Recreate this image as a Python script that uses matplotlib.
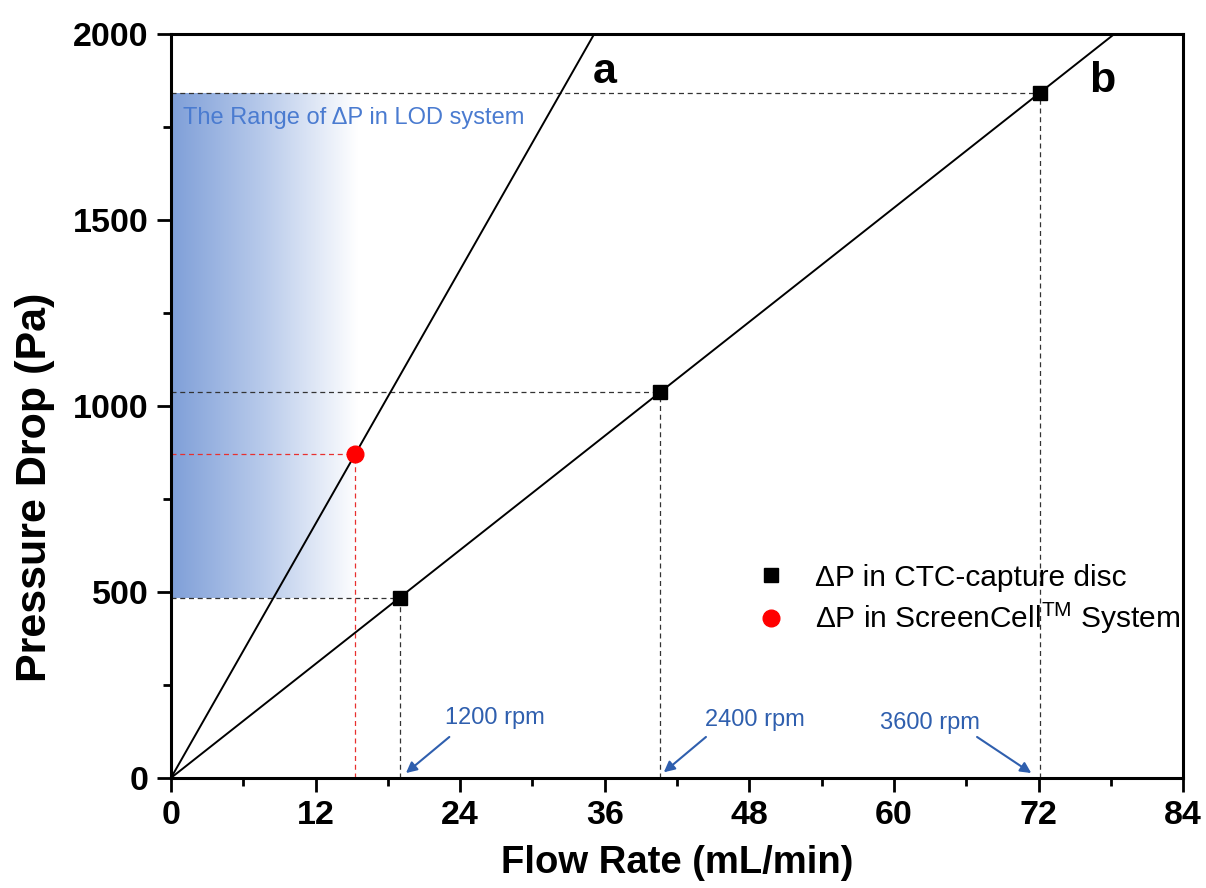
import numpy as np
import matplotlib
matplotlib.use("Agg")
import matplotlib.pyplot as plt
from matplotlib.colors import LinearSegmentedColormap
from matplotlib.ticker import MultipleLocator

plt.rcParams['font.family'] = ['Liberation Sans', 'DejaVu Sans']
plt.rcParams['mathtext.fontset'] = 'custom'
plt.rcParams['mathtext.rm'] = 'Liberation Sans'

# ---- data ----
disc_flow = [19.0, 40.6, 72.1]          # mL/min
disc_dp = [484, 1038, 1841]             # Pa
rpm_labels = ['1200 rpm', '2400 rpm', '3600 rpm']
screencell_flow = [15.3]
screencell_dp = [871]
line_labels = ['a', 'b']
lod_range = [484, 1841]                 # Pa
x_ticks = [0, 12, 24, 36, 48, 60, 72, 84]
y_ticks = [0, 500, 1000, 1500, 2000]

fig = plt.figure(figsize=(12.06, 8.88), dpi=100)
ax = fig.add_axes([0.1418, 0.124, 0.8392, 0.8379])
ax.set_xlim(0, 84)
ax.set_ylim(0, 2000)

# gradient band (range of dP in LOD system)
cmap = LinearSegmentedColormap.from_list('band', ['#7f9fd8', '#b9cbeb', '#ffffff'])
grad = np.linspace(0, 1, 256).reshape(1, -1)
ax.imshow(grad, cmap=cmap, aspect='auto', extent=[0, 15.5, lod_range[0], lod_range[1]],
          origin='lower', zorder=0, interpolation='bicubic')

# lines through origin
fx = np.array(disc_flow); fy = np.array(disc_dp)
slope_b = np.sum(fx * fy) / np.sum(fx * fx)
slope_a = screencell_dp[0] / screencell_flow[0]
xs = np.array([0, 84])
ax.plot(xs, slope_a * xs, color='black', lw=1.4, zorder=3)
ax.plot(xs, slope_b * xs, color='black', lw=1.4, zorder=3)

# dashed guide lines
for x, y in zip(disc_flow, disc_dp):
    ax.plot([0, x], [y, y], color='#333333', lw=0.9, dashes=(4, 3), zorder=2)
    ax.plot([x, x], [0, y], color='#333333', lw=0.9, dashes=(4, 3), zorder=2)
for x, y in zip(screencell_flow, screencell_dp):
    ax.plot([0, x], [y, y], color='#e8302f', lw=0.9, dashes=(4, 3), zorder=2)
    ax.plot([x, x], [0, y], color='#e8302f', lw=0.9, dashes=(4, 3), zorder=2)

ax.plot(disc_flow, disc_dp, linestyle='none', marker='s', ms=10, color='black',
        zorder=5, label='\u0394P in CTC-capture disc')
ax.plot(screencell_flow, screencell_dp, linestyle='none', marker='o', ms=12, color='#ff0000',
        zorder=5, label='\u0394P in ScreenCell$^{\\mathrm{TM}}$ System')

leg = ax.legend(loc='upper left', bbox_to_anchor=(0.552, 0.304), frameon=False,
                fontsize=21.5, handletextpad=0.45, labelspacing=0.3, borderaxespad=0)

# line labels
ax.text(36.0, 1898, line_labels[0], fontsize=31, fontweight='bold', ha='center', va='center')
ax.text(77.3, 1872, line_labels[1], fontsize=31, fontweight='bold', ha='center', va='center')

# band label
ax.text(1.0, 1773, 'The Range of \u0394P in LOD system', fontsize=17, color='#4a7bd0',
        ha='left', va='center', zorder=4)

# rpm annotations
rpm_color = '#2f5fae'
text_off = [(7.9, 161), (7.9, 156), (-9.1, 148)]
tail_off = [(4.1, 110), (3.8, 110), (-5.2, 110)]
head_off = [(0.5, 13), (0.3, 15), (-0.7, 13)]
for x, lab, to, ta, he in zip(disc_flow, rpm_labels, text_off, tail_off, head_off):
    ax.text(x + to[0], to[1], lab, fontsize=17, color=rpm_color, ha='center', va='center')
    ax.annotate('', xy=(x + he[0], he[1]), xytext=(x + ta[0], ta[1]),
                arrowprops=dict(arrowstyle='-|>', color=rpm_color, lw=1.5,
                                mutation_scale=16, shrinkA=0, shrinkB=0))

# axes styling
ax.set_xticks(x_ticks)
ax.set_yticks(y_ticks)
ax.xaxis.set_minor_locator(MultipleLocator(6))
ax.yaxis.set_minor_locator(MultipleLocator(250))
ax.tick_params(axis='both', which='major', direction='out', length=10, width=2,
               labelsize=24.5, pad=6)
ax.tick_params(axis='both', which='minor', direction='out', length=6, width=2)
for lbl in ax.get_xticklabels() + ax.get_yticklabels():
    lbl.set_fontweight('bold')
for sp in ax.spines.values():
    sp.set_linewidth(2.2)

ax.set_xlabel('Flow Rate (mL/min)', fontsize=27.5, fontweight='bold', va='center')
ax.xaxis.set_label_coords(0.5, -0.115)
ax.set_ylabel('Pressure Drop (Pa)', fontsize=31, fontweight='bold', va='center')
ax.yaxis.set_label_coords(-0.134, 0.39)

fig.savefig('out.png', dpi=100)
